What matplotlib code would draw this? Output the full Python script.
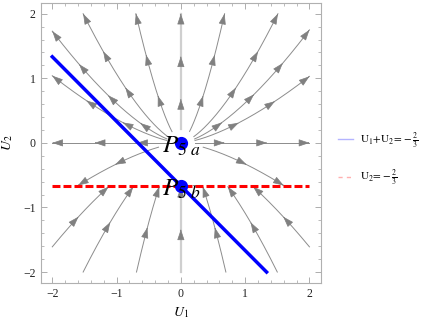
import numpy as np, matplotlib
matplotlib.use("Agg")
import matplotlib.pyplot as plt
from matplotlib.lines import Line2D

plt.rcParams['font.family'] = ['Liberation Serif', 'DejaVu Serif']
plt.rcParams['mathtext.fontset'] = 'stix'

# streamlines leaving the origin (where they exit the box)
upper_ends = [(2.0, 0.0), (2.0, 1.03), (2.0, 1.75), (1.51, 2.0), (0.68, 2.0), (0.0, 2.0),
              (-0.7, 2.0), (-1.52, 2.0), (-2.0, 1.73), (-2.0, 1.04), (-2.0, 0.0)]
# streamlines between U2=0 and U2=-2/3 (where they hit the dashed line)
middle_ends = [(-1.6, -0.66), (1.6, -0.66)]
# streamlines coming in from the lower edges
lower_starts = [(-2.0, -1.61), (-1.52, -2.0), (-0.69, -2.0), (0.0, -2.0),
                (0.7, -2.0), (1.5, -2.0), (2.0, -1.61)]

line_u1 = [-2.0, 4 / 3]
line_u2 = [4 / 3, -2.0]
dash_u1 = [-2.0, 2.0]
dash_u2 = [-2 / 3, -2 / 3]
points = {"5\\ a": (0.0, 0.0), "5\\ b": (0.0, -2 / 3)}


def direction(u1, u2):
    s = u2 + 2 / 3
    v = np.array([2 / 3 * u1 * s, u2 * s])
    n = np.hypot(*v)
    return v / n if n > 0 else v


def trace(p, sign, stop, step=0.005):
    pts = [np.array(p, float)]
    for _ in range(3000):
        d = direction(*pts[-1])
        if not d.any():
            break
        q = pts[-1] + sign * step * d
        if stop(q):
            break
        pts.append(q)
    return np.array(pts)


paths = []
for e in upper_ends:
    paths.append(trace(e, -1, lambda q: np.hypot(*q) < 0.22)[::-1])
for e in middle_ends:
    paths.append(trace(e, -1, lambda q: np.hypot(*q) < 0.35)[::-1])
for s in lower_starts:
    paths.append(trace(s, 1, lambda q: q[1] > -2 / 3 - 0.01))

fig = plt.figure(figsize=(4.21, 3.24), dpi=100)
ax = fig.add_axes([0.0967, 0.1265, 0.6658, 0.865])

spacing = 0.66
for pts in paths:
    vertical = abs(pts[0][0]) < 1e-9 and abs(pts[-1][0]) < 1e-9
    ax.plot(pts[:, 0], pts[:, 1], color="#cfcfcf" if vertical else "#8c8c8c",
            lw=1.6 if vertical else 0.7, zorder=1)
    seg = np.hypot(*np.diff(pts, axis=0).T)
    cum = np.concatenate([[0], np.cumsum(seg)])
    pos = cum[-1]
    while pos > 0.4:
        i = max(np.searchsorted(cum, pos), 4)
        i = min(i, len(pts) - 1)
        ax.annotate("", xy=pts[i], xytext=pts[i - 4],
                    arrowprops=dict(arrowstyle="-|>,head_length=0.95,head_width=0.32",
                                    color="#808080", lw=0.5, shrinkA=0, shrinkB=0,
                                    mutation_scale=7), zorder=2)
        pos -= spacing

ax.plot(dash_u1, dash_u2, color="#ff0000", lw=2.2, ls=(0, (2.6, 1.0)), zorder=3)
ax.plot(line_u1, line_u2, color="#0000ff", lw=2.5, zorder=4)
for sub, (px, py) in points.items():
    ax.plot(px, py, "o", color="#0000ff", ms=8.5, zorder=5)
    ax.text(px, py - 0.05, rf"$P_{{{sub}}}$", fontsize=18, ha="center", va="center", zorder=6)

ax.set_xlim(-2.18, 2.18)
ax.set_ylim(-2.17, 2.17)
ax.set_xticks([-2, -1, 0, 1, 2])
ax.set_yticks([-2, -1, 0, 1, 2])
ax.set_xticks(np.arange(-2.0, 2.01, 0.2), minor=True)
ax.set_yticks(np.arange(-2.0, 2.01, 0.2), minor=True)
ax.tick_params(which="both", direction="in", top=True, right=True, color="#a0a0a0",
               labelsize=8.5, labelcolor="#222222")
ax.tick_params(which="major", length=4, width=0.6)
ax.tick_params(which="minor", length=2.2, width=0.5)
for sp in ax.spines.values():
    sp.set_color("#b0b0b0")
ax.set_xlabel(r"$U_1$", fontsize=10, labelpad=4)
ax.set_ylabel(r"$U_2$", fontsize=10, labelpad=6)

handles = [Line2D([], [], color="#b4b4ff", lw=1.0),
           Line2D([], [], color="#ffb0b0", lw=1.0, ls=(0, (3, 3)))]
labels = [r"$\mathrm{U}_1\!+\!\mathrm{U}_2\!=\!-\frac{2}{3}$", r"$\mathrm{U}_2\!=\!-\frac{2}{3}$"]
ax.legend(handles, labels, loc="center left", bbox_to_anchor=(1.04, 0.44), frameon=False,
          fontsize=8, handlelength=1.4, handletextpad=0.6, labelspacing=1.6, borderpad=0)

fig.savefig("out.png", dpi=100, facecolor="white")
